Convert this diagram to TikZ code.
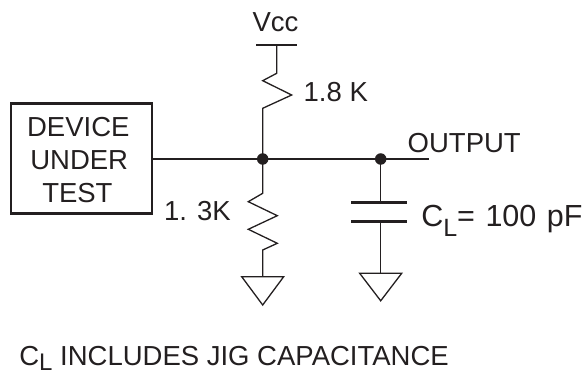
\documentclass[tikz,border=0pt]{standalone}
\usepackage{fontspec}
\setmainfont{Liberation Sans}
\definecolor{ink}{HTML}{231F20}
\tikzset{
  wire/.style={draw=ink, line width=1.3pt, line join=miter},
  lbl/.style={inner sep=0pt, outer sep=0pt, text=ink, font=\fontsize{27.5}{33}\selectfont},
  dutbox/.style={draw=ink, line width=2.2pt, minimum width=141.3pt, minimum height=110pt, inner sep=0pt},
  plate/.style={draw=ink, line width=2.4pt},
  jdot/.style={circle, fill=ink, minimum size=11.5pt, inner sep=0pt},
  gnd/.style={draw=ink, line width=1.3pt, line join=miter}
}
\begin{document}
\begin{tikzpicture}[x=1pt,y=-1pt]
\useasboundingbox (0,0) rectangle (582,377);
% device under test
\node[dutbox] (dut) at (81.7,158.5) {};
\node[lbl, anchor=base] (dt1) at (78.3,136.7) {DEVICE};
\node[lbl, anchor=base] (dt2) at (79.2,170) {UNDER};
\node[lbl, anchor=base] (dt3) at (77.4,202.7) {TEST};
% coordinates
\coordinate (vcc) at (276.7,45);
\coordinate (vccl) at (256,45);
\coordinate (vccr) at (297,45);
\coordinate (j1) at (262.7,159);
\coordinate (j2) at (380.7,159);
\coordinate (out) at (429,159);
\coordinate (g1) at (262.7,276.7);
\coordinate (cp1) at (380.7,202.7);
\coordinate (cp2) at (380.7,221.7);
\coordinate (g2) at (380.7,273.3);
% Vcc rail and pull-up resistor
\draw[wire] (vccl) -- (vccr);
\draw[wire] (vcc) -- (276.7,73.3) -- (262.7,80.7) -- (291.7,95) -- (262.7,108.3) -- (j1);
% main wire
\draw[wire] (dut.east |- j1) -- (j1) -- (j2) -- (out);
% pull-down resistor
\draw[wire] (j1) -- (262.7,193.3) -- (248.3,201.7) -- (277.3,215.7) -- (248.3,229.3) -- (277.3,243.3) -- (262.7,250) -- (g1);
\draw[gnd] (g1) ++(-21,0) -- ++(42,0) -- ++(-21,28.3) -- cycle;
% capacitor
\draw[wire] (j2) -- (cp1);
\draw[plate] (cp1) ++(-29.5,0) -- ++(55.5,0);
\draw[plate] (cp2) ++(-29.5,0) -- ++(55.5,0);
\draw[wire] (cp2) -- (g2);
\draw[gnd] (g2) ++(-21,0) -- ++(42,0) -- ++(-21,27.5) -- cycle;
% junction dots
\node[jdot] (jd1) at (j1) {};
\node[jdot] (jd2) at (j2) {};
% labels
\node[lbl, anchor=base] (vcct) at (275.5,31.7) {Vcc};
\node[lbl, anchor=base west] (r1t) at (303.7,102) {1.8 K};
\node[lbl, anchor=base west] (r2t) at (164,221) {1. 3K};
\node[lbl, anchor=base west] (outt) at (407.7,152.3) {OUTPUT};
\node[lbl, anchor=base west, font=\fontsize{30.5}{33}\selectfont] (clt) at (421.3,227) {C\raisebox{-10pt}{\fontsize{25}{25}\selectfont L}=\hspace{2pt} 100\hspace{2pt} pF};
\node[lbl, anchor=base west] (note) at (19.3,366) {C\raisebox{-5pt}{\fontsize{24}{24}\selectfont L} INCLUDES JIG CAPACITANCE};
\end{tikzpicture}
\end{document}
